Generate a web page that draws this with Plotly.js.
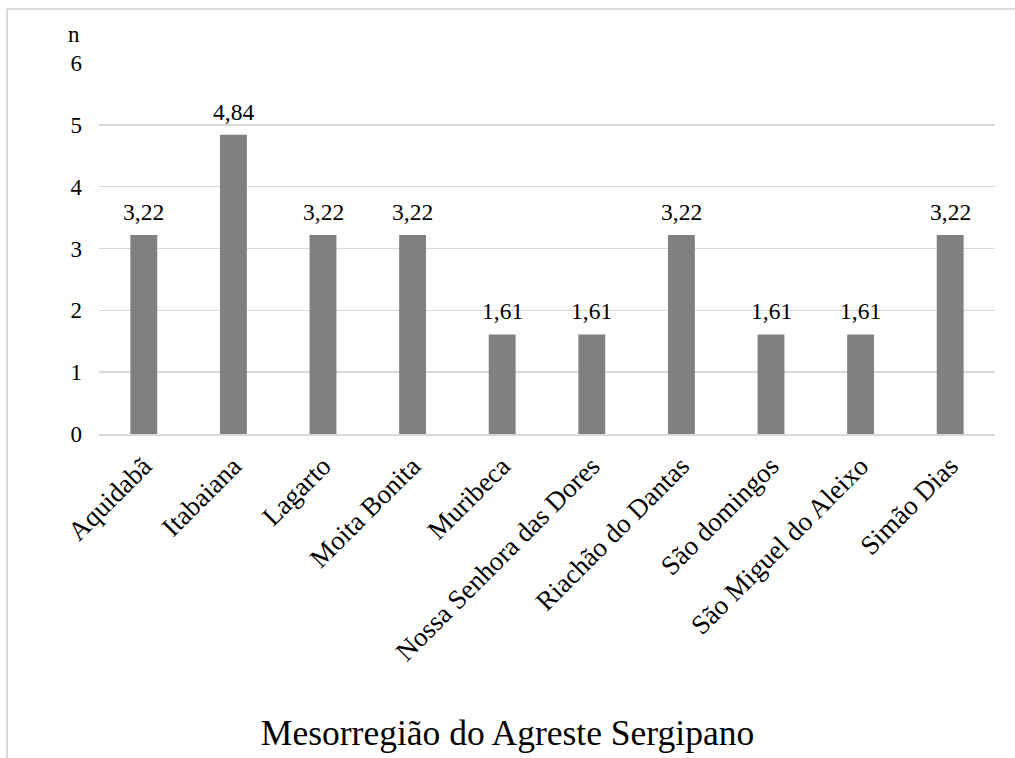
<!DOCTYPE html>
<html>
<head>
<meta charset="utf-8">
<script src="https://cdn.plot.ly/plotly-3.0.1.min.js"></script>
<style>html,body{margin:0;padding:0;background:#fff;}#chart{width:1015px;height:758px;}</style>
</head>
<body>
<div id="chart"></div>
<script>
const categories = ["Aquidabã","Itabaiana","Lagarto","Moita Bonita","Muribeca","Nossa Senhora das Dores","Riachão do Dantas","São domingos","São Miguel do Aleixo","Simão Dias"];
const values = [3.22,4.84,3.22,3.22,1.61,1.61,3.22,1.61,1.61,3.22];
const yTicks = [0,1,2,3,4,5,6];
const titleText = "Mesorregião do Agreste Sergipano";
const yLabel = "n";

const FONT = "Liberation Serif, Times New Roman, serif";
const fmt = v => v.toFixed(2).replace('.', ',');

const trace = {
  type: 'bar',
  x: categories,
  y: values,
  marker: {color: '#808080'},
  hoverinfo: 'skip'
};

const labelAnn = categories.map((c, i) => ({
  x: c, y: values[i], xref: 'x', yref: 'y',
  text: fmt(values[i]), showarrow: false,
  yanchor: 'bottom', yshift: 8,
  font: {family: FONT, size: 23.5, color: '#000'}
}));

const layout = {
  width: 1015, height: 758,
  margin: {l: 99, r: 20, t: 63, b: 324, pad: 0},
  paper_bgcolor: '#fff', plot_bgcolor: '#fff',
  showlegend: false,
  bargap: 0.7,
  font: {family: FONT, size: 23, color: '#000'},
  title: {
    text: titleText, xref: 'container', yref: 'container',
    x: 0.5, xanchor: 'center', y: 1 - 733/758, yanchor: 'middle',
    font: {family: FONT, size: 35.5, color: '#000'}
  },
  xaxis: {
    type: 'category', tickangle: -45, showgrid: false,
    showline: true, linecolor: '#d9d9d9', linewidth: 1.5,
    ticks: '', ticklabelstandoff: 4,
    tickfont: {family: FONT, size: 27, color: '#000'},
    zeroline: false, fixedrange: true
  },
  yaxis: {
    range: [0, 6], tickvals: yTicks, ticktext: yTicks.map(String),
    showgrid: true, gridcolor: '#d9d9d9', gridwidth: 1.5,
    zeroline: false, showline: false, ticks: '',
    ticklabelstandoff: 16,
    tickfont: {family: FONT, size: 23, color: '#000'}, fixedrange: true
  },
  annotations: labelAnn.concat([{
    xref: 'paper', yref: 'paper', x: (74 - 99) / 896, y: (434 - 34) / 371,
    xanchor: 'center', yanchor: 'middle', text: yLabel, showarrow: false,
    font: {family: FONT, size: 23, color: '#000'}
  }]),
  shapes: [
    {type: 'line', xref: 'paper', yref: 'paper', x0: (7 - 99) / 896, x1: (1015 - 99) / 896, y0: (434 - 9) / 371, y1: (434 - 9) / 371, line: {color: '#d9d9d9', width: 2}},
    {type: 'line', xref: 'paper', yref: 'paper', x0: (7 - 99) / 896, x1: (7 - 99) / 896, y0: (434 - 9) / 371, y1: (434 - 760) / 371, line: {color: '#d9d9d9', width: 2}}
  ]
};

Plotly.newPlot('chart', [trace], layout, {displayModeBar: false, staticPlot: true});
</script>
</body>
</html>
